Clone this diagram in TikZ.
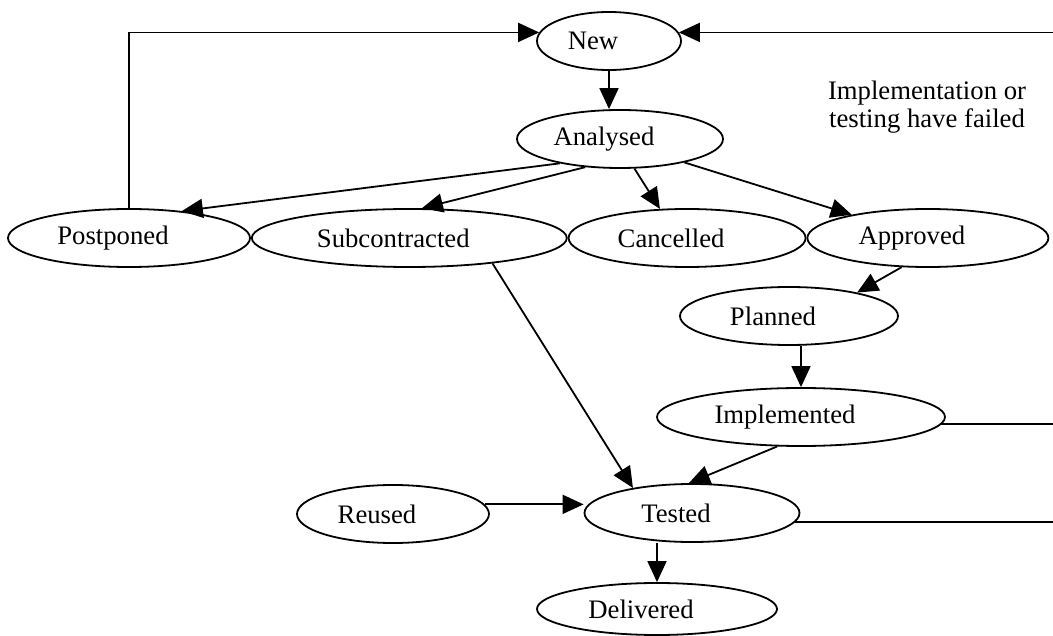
\documentclass[tikz,border=0pt]{standalone}
\usepackage{fontspec}
\setmainfont{Liberation Serif}
\usetikzlibrary{arrows.meta,shapes,positioning}

\begin{document}
\begin{tikzpicture}[x=1pt,y=-1pt,
    phase/.style={ellipse, draw, line width=1.8pt, inner sep=0pt, minimum height=58pt,
      font=\fontsize{26.7}{28}\selectfont, execute at end node={\hspace*{32pt}}},
    arr/.style={line width=1.8pt, -{Triangle[length=21pt,width=19pt]}}]
        \useasboundingbox (0,0) rectangle (1053,636);
        \coordinate (rim) at (1053,0);
        \node[phase, minimum width=144pt] (New) at (609,41) {New};
        \node[phase, minimum width=206pt] (Analysed) at (620,139) {Analysed};
        \node[phase, minimum width=242pt] (Postponed) at (129,238) {Postponed};
        \node[phase, minimum width=315pt, right = 0pt of Postponed] (Subcontracted) {Subcontracted};
        \node[phase, minimum width=237pt, right = 0pt of Subcontracted] (Cancelled) {Cancelled};
        \node[phase, minimum width=241pt, right = 0pt of Cancelled] (Approved) {Approved};
        \node[phase, minimum width=218pt] (Planned) at (789,316) {Planned};
        \node[phase, minimum width=288pt] (Implemented) at (801,417) {Implemented};
        \node[phase, minimum width=192pt] (Reused) at (393,514) {Reused};
        \node[phase, minimum width=215pt] (Tested) at (692,513) {Tested};
        \node[phase, minimum width=240pt, minimum height=52pt] (Delivered) at (657,609) {Delivered};
        \node[font=\fontsize{26.7}{28}\selectfont, align=center] (failnote) at (927,107) {Implementation or\\testing have failed};
        \draw[arr] (New.south) -- (New.south |- Analysed.north);
        \draw[arr] (Analysed.202) -- (Postponed.27);
        \draw[arr] (Analysed.219) -- (Subcontracted.67);
        \draw[arr] (Analysed.296) -- (Cancelled.133);
        \draw[arr] (Analysed.340) -- (Approved.163);
        \draw[arr] (Postponed.north) |- (New.173);
        \draw[arr] (rim |- New.7) -- (New.7);
        \draw[line width=1.8pt] (Implemented.357) -- (Implemented.357 -| rim);
        \draw[line width=1.8pt] (Tested.355) -- (Tested.355 -| rim);
        \draw[arr] (Approved.228) -- (Planned.19);
        \draw[arr] (Implemented.north |- Planned.south) -- (Implemented.north);
        \draw[arr] (Subcontracted.343) -- (Tested.157);
        \draw[arr] (Implemented.231) -- (Tested.96);
        \draw[arr] (Reused.6) -- (Reused.6 -| Tested.west);
        \draw[arr] (Delivered.north |- Tested.south) -- (Delivered.north);
      \end{tikzpicture}
\end{document}
